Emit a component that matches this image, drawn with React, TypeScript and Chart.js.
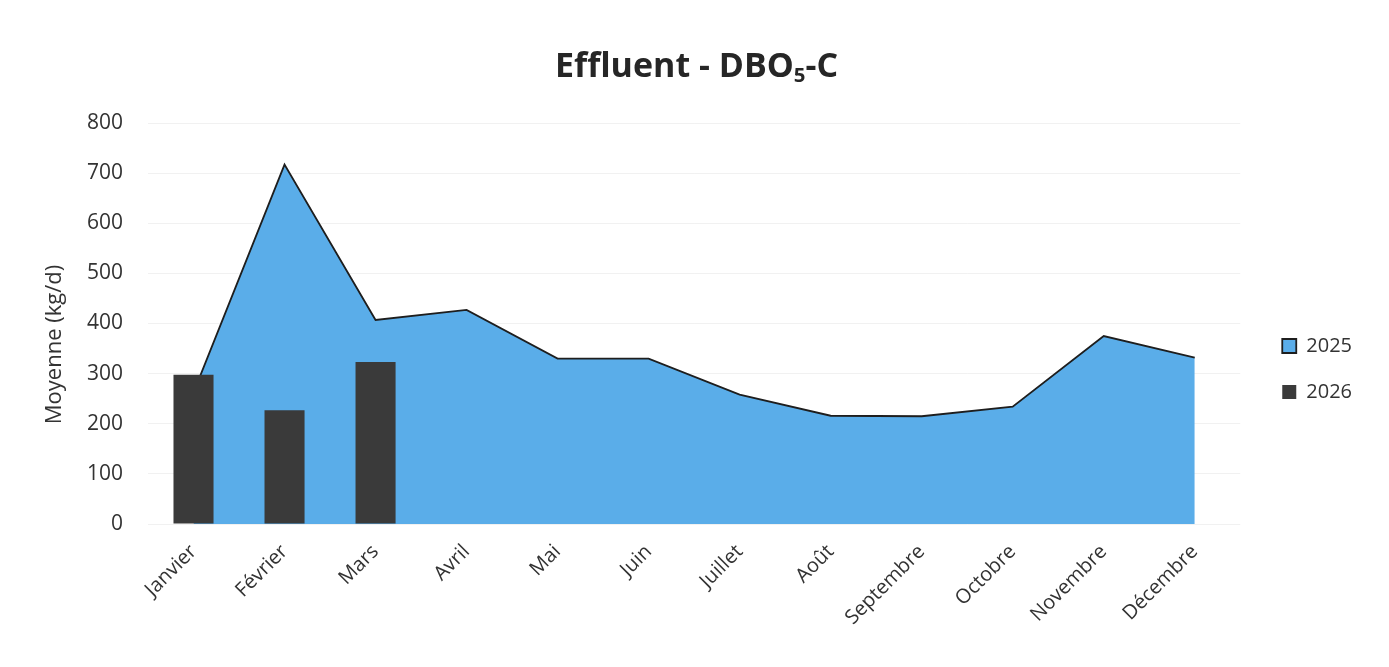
import React, { useEffect, useRef } from "react";
import { Chart, registerables } from "chart.js";

Chart.register(...registerables);

const months = [
  "Janvier", "Février", "Mars", "Avril", "Mai", "Juin",
  "Juillet", "Août", "Septembre", "Octobre", "Novembre", "Décembre",
];
const values2025 = [262, 717, 407, 427, 330, 330, 258, 216, 215, 234, 375, 332];
const values2026: (number | null)[] = [298, 227, 323, null, null, null, null, null, null, null, null, null];
const yTicks = [0, 100, 200, 300, 400, 500, 600, 700, 800];
const yTitle = "Moyenne (kg/d)";

const FONT = "'Open Sans', 'Noto Sans', sans-serif";
const TEXT = "#333333";

const yTitlePlugin = {
  id: "yTitlePlugin",
  afterDraw(chart: any) {
    const { ctx, chartArea } = chart;
    ctx.save();
    ctx.translate(47, (chartArea.top + chartArea.bottom) / 2 + 21);
    ctx.rotate(-Math.PI / 2);
    ctx.fillStyle = TEXT;
    ctx.font = `22px ${FONT}`;
    ctx.textAlign = "center";
    ctx.textBaseline = "middle";
    ctx.fillText(yTitle, 0, 0);
    ctx.restore();
  },
};

export default function App() {
  const ref = useRef<HTMLCanvasElement | null>(null);

  useEffect(() => {
    if (!ref.current) return;
    const chart = new Chart(ref.current, {
      data: {
        labels: months,
        datasets: [
          {
            type: "line",
            label: "2025",
            data: values2025,
            fill: "origin",
            backgroundColor: "#5aade9",
            borderColor: "#1e1e1e",
            borderWidth: 1.8,
            pointRadius: 0,
            tension: 0,
            order: 2,
          },
          {
            type: "bar",
            label: "2026",
            data: values2026,
            backgroundColor: "#3a3a3a",
            borderWidth: 0,
            categoryPercentage: 1,
            barPercentage: 0.44,
            order: 1,
          },
        ],
      } as any,
      options: {
        animation: false,
        responsive: true,
        maintainAspectRatio: false,
        layout: { padding: { top: 96, bottom: 25, left: 0, right: 19 } },
        plugins: {
          title: { display: false },
          tooltip: { enabled: false },
          legend: {
            position: "right",
            align: "center",
            labels: {
              boxWidth: 14,
              boxHeight: 14,
              padding: 26,
              color: TEXT,
              font: { family: FONT, size: 20 },
              sort: (a: any, b: any) => a.datasetIndex - b.datasetIndex,
            },
          },
        },
        scales: {
          x: {
            grid: { display: false },
            border: { display: false },
            ticks: {
              color: TEXT,
              font: { family: FONT, size: 20 },
              minRotation: 45,
              maxRotation: 45,
              padding: 8,
              autoSkip: false,
            },
            afterFit: (s: any) => {
              s.height = 110;
            },
          },
          gapTop: {
            type: "linear",
            position: "top",
            display: true,
            grid: { display: false },
            border: { display: false },
            ticks: { display: false },
            afterFit: (s: any) => {
              s.height = 19;
            },
          },
          y: {
            min: 0,
            max: 800,
            afterBuildTicks: (s: any) => {
              s.ticks = yTicks.map((v) => ({ value: v }));
            },
            grid: { color: "#f1f1f1", drawTicks: false },
            border: { display: false },
            ticks: {
              color: TEXT,
              font: { family: FONT, size: 21 },
              padding: 25,
            },
            afterFit: (s: any) => {
              s.width = 140;
            },
          },
          gap: {
            type: "linear",
            position: "right",
            display: true,
            grid: { display: false },
            border: { display: false },
            ticks: { display: false },
            afterFit: (s: any) => {
              s.width = 16;
            },
          },
        },
      } as any,
      plugins: [yTitlePlugin],
    });
    return () => chart.destroy();
  }, []);

  return (
    <div style={{ position: "relative", width: 1373, height: 651, background: "#fff" }}>
      <div
        style={{
          position: "absolute",
          top: 36,
          left: 0,
          width: "100%",
          height: 40,
          lineHeight: "40px",
          textAlign: "center",
          fontFamily: FONT,
          fontWeight: 700,
          fontSize: 34,
          color: "#262626",
          paddingLeft: 4,
          boxSizing: "border-box",
        }}
      >
        Effluent - DBO<sub style={{ fontSize: "60%", verticalAlign: "-0.25em" }}>5</sub>-C
      </div>
      <canvas ref={ref} />
    </div>
  );
}
